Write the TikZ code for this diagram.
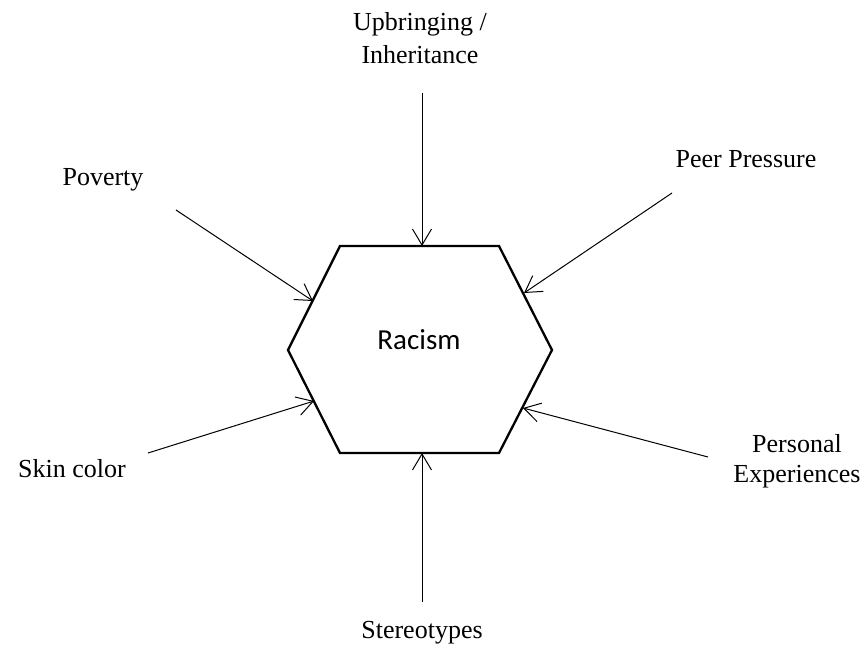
\documentclass[tikz,border=0pt]{standalone}
\usepackage{fontspec}
\setmainfont{Liberation Serif}
\newfontfamily\hexfont{Carlito}
\usetikzlibrary{arrows.meta}
\begin{document}
\begin{tikzpicture}[x=1pt,y=-1pt,
  lbl/.style={font=\fontsize{26}{30}\selectfont, inner sep=0pt, align=center},
  inarrow/.style={line width=1pt, -{Straight Barb[length=16pt,width=19pt,line width=1pt]}},
  hexline/.style={line width=2.3pt, line join=miter}]
\useasboundingbox (0,0) rectangle (863,646);
% hexagon corners
\coordinate (h1) at (340,246);
\coordinate (h2) at (499,246);
\coordinate (h3) at (552,350);
\coordinate (h4) at (499,453);
\coordinate (h5) at (340,453);
\coordinate (h6) at (288,350);
\draw[hexline] (h1) -- (h2) -- (h3) -- (h4) -- (h5) -- (h6) -- cycle;
\node[inner sep=0pt, anchor=base, font=\hexfont\fontsize{29}{34}\selectfont] (racism) at (419,349) {Racism};
% arrow targets on the hexagon
\coordinate (tUp) at (422,246);
\coordinate (tPov) at (313,301);
\coordinate (tPeer) at (524,293);
\coordinate (tSkin) at (314,401);
\coordinate (tPers) at (523,408);
\coordinate (tSter) at (422,453);
% arrow sources
\coordinate (sUp) at (422,93);
\coordinate (sPov) at (176,210);
\coordinate (sPeer) at (672,193);
\coordinate (sSkin) at (148,453);
\coordinate (sPers) at (708,457);
\coordinate (sSter) at (422,602);
% labels
\node[lbl, font=\fontsize{26}{33}\selectfont] (up) at (420,38) {Upbringing /\\Inheritance};
\node[lbl, anchor=base] (peer) at (746,167) {Peer Pressure};
\node[lbl, anchor=base] (pov) at (103,185) {Poverty};
\node[lbl, anchor=base] (skin) at (72,477) {Skin color};
\node[lbl] (pers) at (797,461) {Personal\\Experiences};
\node[lbl, anchor=base] (ster) at (422,638) {Stereotypes};
% arrows
\draw[inarrow] (sUp) -- (tUp);
\draw[inarrow] (sPov) -- (tPov);
\draw[inarrow] (sPeer) -- (tPeer);
\draw[inarrow] (sSkin) -- (tSkin);
\draw[inarrow] (sPers) -- (tPers);
\draw[inarrow] (sSter) -- (tSter);
\end{tikzpicture}
\end{document}
